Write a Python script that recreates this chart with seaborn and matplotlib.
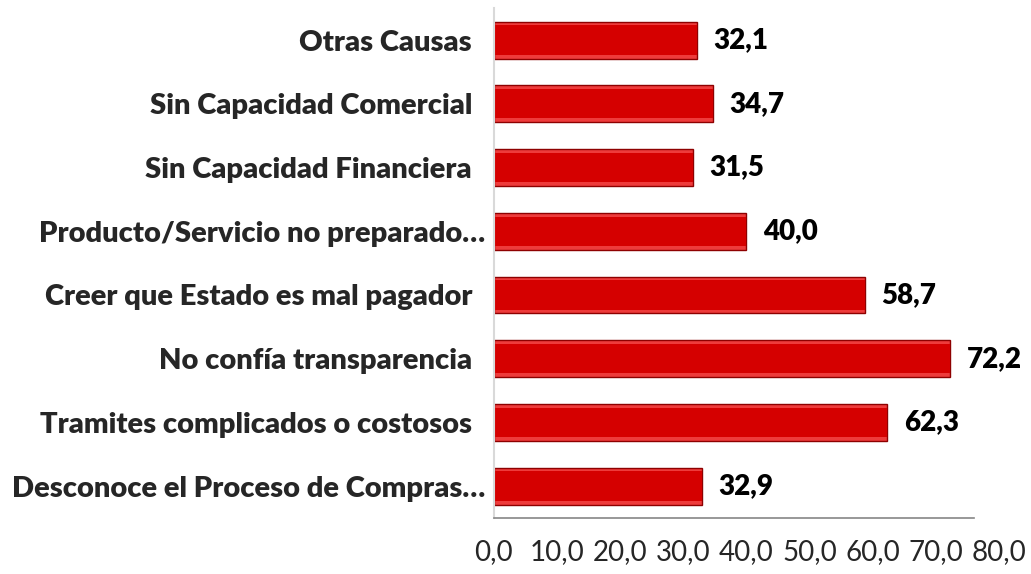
import matplotlib
matplotlib.use('Agg')
import matplotlib.pyplot as plt
import seaborn as sns
import pandas as pd

# Chart data (top to bottom)
categories = ['Otras Causas  ', 'Sin Capacidad Comercial  ', 'Sin Capacidad Financiera  ',
              'Producto/Servicio no preparado…', 'Creer que Estado es mal pagador  ',
              'No confía transparencia  ', 'Tramites complicados o costosos  ',
              'Desconoce el Proceso de Compras…']
values = [32.1, 34.7, 31.5, 40.0, 58.7, 72.2, 62.3, 32.9]
x_ticks = [0, 10, 20, 30, 40, 50, 60, 70, 80]

df = pd.DataFrame({'causa': categories, 'valor': values})

sns.set_theme(style='white')
plt.rcParams['font.family'] = ['Lato', 'DejaVu Sans']

fig = plt.figure(figsize=(10.31, 5.74), dpi=100)
ax = fig.add_axes([0.479, 0.0976, 0.490, 0.888])

# bevelled look: light outer bar + darker inner bar
sns.barplot(data=df, x='valor', y='causa', orient='h', color='#EE3B3B',
            edgecolor='#8E0000', linewidth=1.0, width=0.58, saturation=1, ax=ax)
sns.barplot(data=df, x='valor', y='causa', orient='h', color='#D50000',
            linewidth=0, width=0.46, saturation=1, ax=ax)

ax.bar_label(ax.containers[0], labels=[f'{v:.1f}'.replace('.', ',') for v in values],
             padding=12, fontsize=20, fontweight='heavy', color='black')

ax.set_xlim(0, 80)
ax.set_xticks(x_ticks)
ax.set_xticklabels([f'{t:.1f}'.replace('.', ',') for t in x_ticks], fontsize=20)
ax.tick_params(axis='x', length=0, pad=15)
ax.tick_params(axis='y', length=0, pad=6)
for lbl in ax.get_yticklabels():
    lbl.set_fontsize(21)
    lbl.set_fontweight('heavy')

ax.set_xlabel('')
ax.set_ylabel('')
ax.spines['top'].set_visible(False)
ax.spines['right'].set_visible(False)
ax.spines['left'].set_color('#D9D9D9')
ax.spines['left'].set_linewidth(1.5)
ax.spines['bottom'].set_color('#868686')
ax.spines['bottom'].set_linewidth(1.2)
ax.spines['bottom'].set_bounds(0, 76)

fig.savefig('out.png', dpi=100)
